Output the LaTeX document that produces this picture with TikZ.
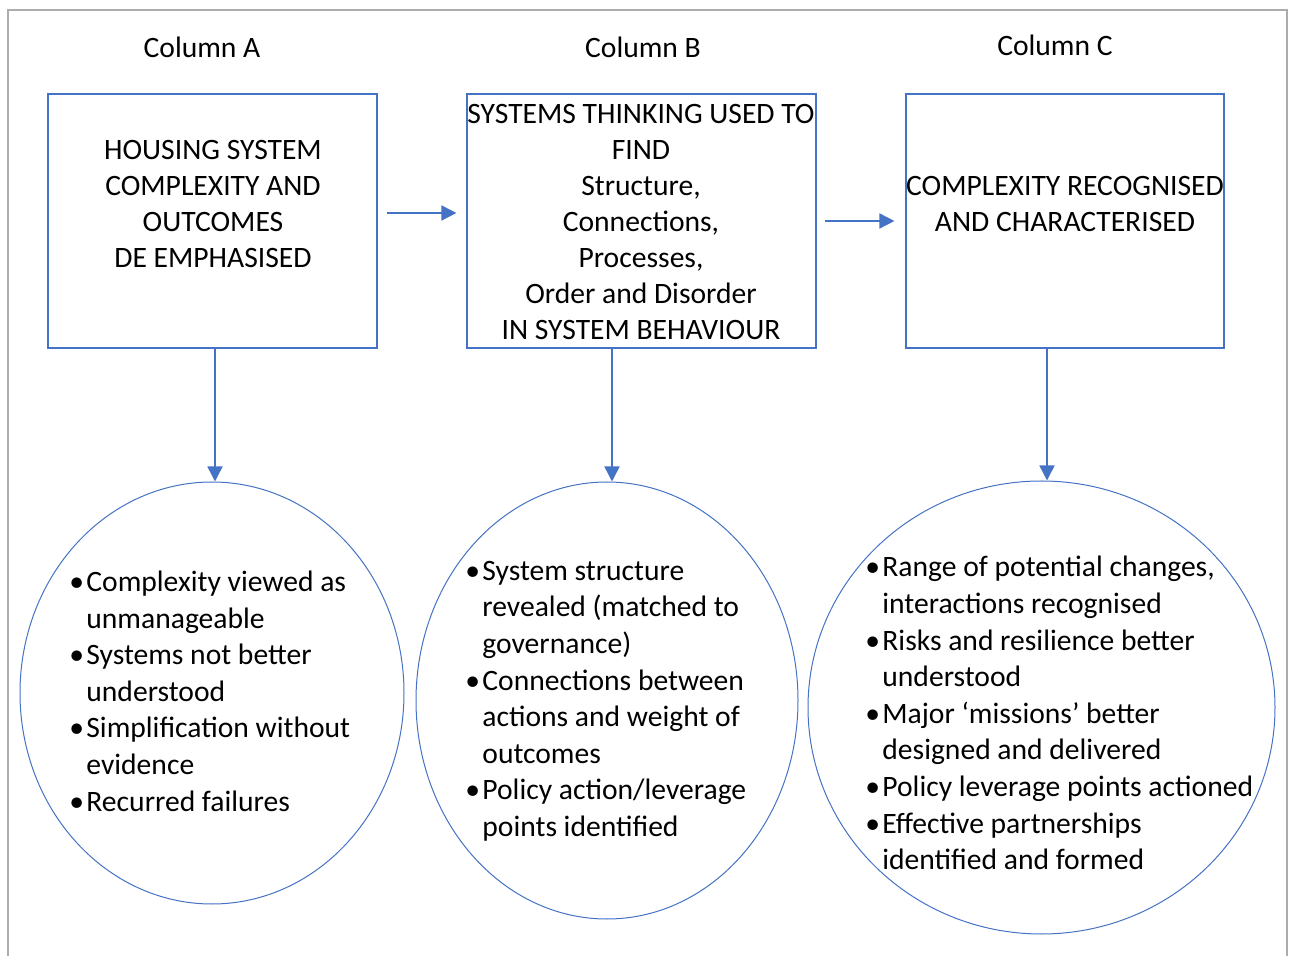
\documentclass[tikz,border=0pt]{standalone}
\usepackage{fontspec}
\setmainfont{Carlito}
\usetikzlibrary{shapes.geometric,arrows.meta}
\definecolor{wordblue}{HTML}{4472C4}
\tikzset{
  frame/.style={draw=gray!65, line width=1pt},
  box/.style={draw=wordblue, line width=0.55pt, minimum width=#1, minimum height=127pt, inner sep=0pt},
  boxtext/.style={align=center, inner sep=0pt, font=\fontsize{14.8}{18}\selectfont},
  coltitle/.style={inner sep=0pt, font=\fontsize{14.8}{18}\selectfont},
  blob/.style={ellipse, draw=wordblue, line width=0.5pt, inner sep=0pt},
  blobtext/.style={anchor=west, inner sep=0pt, font=\fontsize{14.8}{18.3}\selectfont},
  arr/.style={draw=wordblue, line width=0.75pt, -{Triangle[length=7.5pt,width=7.5pt]}}
}
\newcommand{\bul}{\makebox[8.5pt][l]{\textbullet}}
\begin{document}
\begin{tikzpicture}[x=0.5pt,y=-0.5pt]
    \useasboundingbox (0,0) rectangle (1291,956);
    \draw [frame] (8,956) -- (8,10) -- (1287,10) -- (1287,956);

    \node [coltitle] (titleA) at (202,47) {Column A};
    \node [coltitle] (titleB) at (643,47) {Column B};
    \node [coltitle] (titleC) at (1055,45) {Column C};

    \node [box=164.5pt] (boxA) at (212.5,221) {};
    \node [box=174.5pt] (boxB) at (641.5,221) {};
    \node [box=159pt] (boxC) at (1065,221) {};
    \node [boxtext] (textA) at (213,204) {HOUSING SYSTEM\\COMPLEXITY AND\\OUTCOMES\\DE EMPHASISED};
    \node [boxtext] (textB) at (641,222) {SYSTEMS THINKING USED TO\\FIND\\Structure,\\Connections,\\Processes,\\Order and Disorder\\IN SYSTEM BEHAVIOUR};
    \node [boxtext] (textC) at (1065,204) {COMPLEXITY RECOGNISED\\AND CHARACTERISED};

    \draw [arr, shorten <=4.5pt, shorten >=5pt] ([yshift=4pt]boxA.east) -- ([yshift=4pt]boxB.west);
    \draw [arr, shorten <=4pt, shorten >=5.5pt] (boxB.east) -- (boxC.west);

    \node [blob, minimum width=192pt, minimum height=211pt] (ellA) at (212,693) {};
    \node [blob, minimum width=191pt, minimum height=218.5pt] (ellB) at (607,700.5) {};
    \node [blob, minimum width=233.5pt, minimum height=226.5pt] (ellC) at (1041.5,707.5) {};

    \draw [arr] ([xshift=1.5pt]ellA.north |- boxA.south) -- ([xshift=1.5pt]ellA.north);
    \draw [arr] ([xshift=2.5pt]ellB.north |- boxB.south) -- ([xshift=2.5pt]ellB.north);
    \draw [arr] ([xshift=2.75pt]ellC.north |- boxC.south) -- ([xshift=2.75pt]ellC.north);

    \node [blobtext] (listA) at (69,694) {\begin{tabular}{@{}l@{}l@{}}
        \bul & Complexity viewed as\\
             & unmanageable\\
        \bul & Systems not better\\
             & understood\\
        \bul & Simplification without\\
             & evidence\\
        \bul & Recurred failures
      \end{tabular}};
    \node [blobtext] (listB) at (465,701) {\begin{tabular}{@{}l@{}l@{}}
        \bul & System structure\\
             & revealed (matched to\\
             & governance)\\
        \bul & Connections between\\
             & actions and weight of\\
             & outcomes\\
        \bul & Policy action/leverage\\
             & points identified
      \end{tabular}};
    \node [blobtext] (listC) at (865,716) {\begin{tabular}{@{}l@{}l@{}}
        \bul & Range of potential changes,\\
             & interactions recognised\\
        \bul & Risks and resilience better\\
             & understood\\
        \bul & Major ‘missions’ better\\
             & designed and delivered\\
        \bul & Policy leverage points actioned\\
        \bul & Effective partnerships\\
             & identified and formed
      \end{tabular}};
\end{tikzpicture}
\end{document}
